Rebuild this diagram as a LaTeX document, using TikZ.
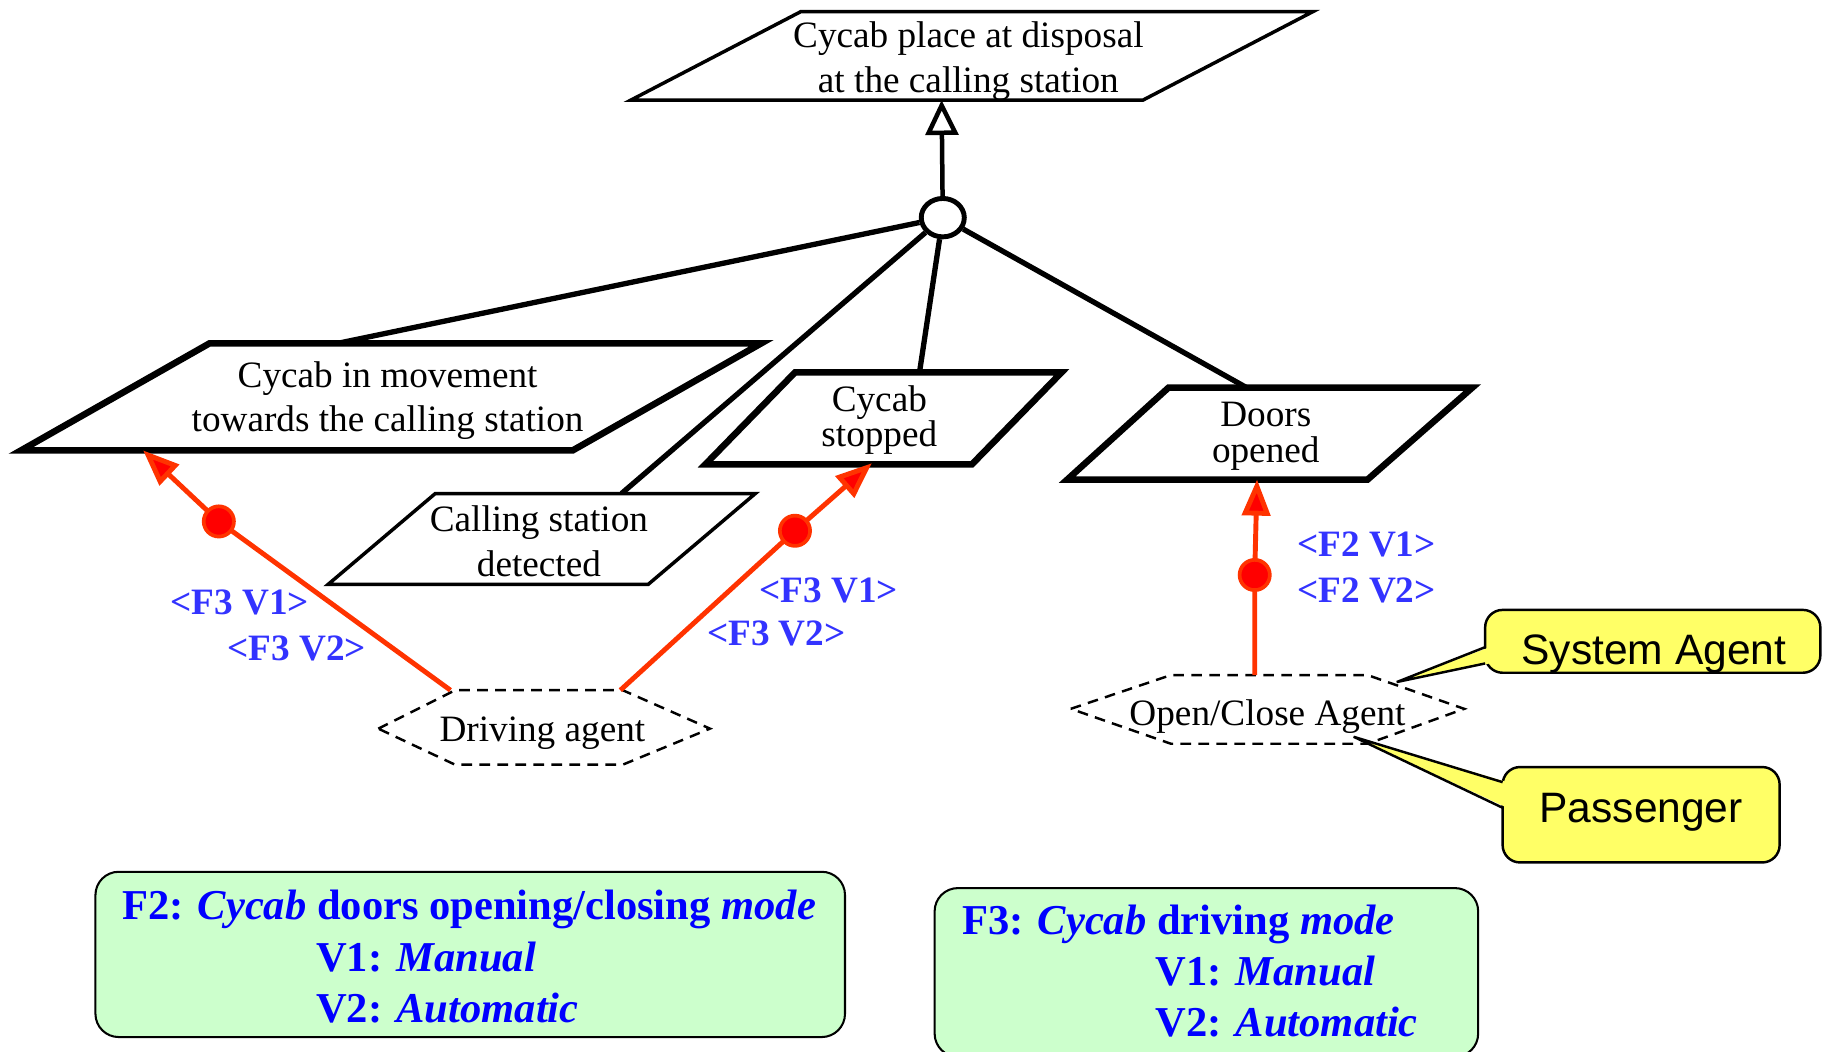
\documentclass[tikz,border=0pt]{standalone}
\usepackage{fontspec}
\setmainfont{Liberation Serif}
\setsansfont{Liberation Sans}
\usetikzlibrary{shapes.geometric}
\usetikzlibrary{arrows.meta}
\definecolor{redline}{RGB}{255,51,0}
\definecolor{labblue}{RGB}{51,51,255}
\definecolor{notegreen}{RGB}{204,255,204}
\definecolor{noteyellow}{RGB}{255,255,102}

\begin{document}
\begin{tikzpicture}[
  goal/.style={draw, fill=white, line width=1.6pt, line join=miter},
  thingoal/.style={draw, fill=white, line width=0.85pt, line join=miter},
  agent/.style={draw, line width=0.6pt, dash pattern=on 2.6pt off 1.8pt},
  link/.style={line width=1.3pt},
  isa/.style={line width=1.1pt, -{Triangle[open, length=0.30cm, width=0.28cm]}},
  resp/.style={redline, line width=1.2pt, -{Triangle[length=0.31cm, width=0.24cm, fill=red]}},
  orc/.style={ellipse, draw, fill=white, line width=1.2pt, minimum width=0.37cm, minimum height=0.33cm, inner sep=0pt},
  dot/.style={circle, draw=redline, fill=red, line width=0.9pt, minimum size=0.26cm, inner sep=0pt},
  txt/.style={font=\fontsize{9.1}{10.8}\selectfont, align=center, inner sep=0pt},
  tighttxt/.style={font=\fontsize{9.1}{8.7}\selectfont, align=center, inner sep=0pt},
  lab/.style={font=\bfseries\fontsize{9.1}{10.8}\selectfont, text=labblue, inner sep=0pt},
  note/.style={font=\bfseries\fontsize{10.4}{12.5}\selectfont, text=blue, inner sep=0pt},
  notebox/.style={draw, fill=notegreen, line width=0.5pt, rounded corners=0.2cm},
  callout/.style={draw, fill=noteyellow, line width=0.6pt, rounded corners=0.15cm},
  calltxt/.style={font=\sffamily\fontsize{10.4}{12.5}\selectfont, inner sep=0pt}
]
\useasboundingbox (0,0) rectangle (15.68,-9.03);

% attach points on the goals and agents
\coordinate (placeb) at (8.09,-0.86);
\coordinate (movt) at (2.90,-2.95);
\coordinate (movb) at (1.23,-3.87);
\coordinate (callt) at (5.34,-4.24);
\coordinate (stopt) at (7.90,-3.20);
\coordinate (stopb) at (7.49,-3.98);
\coordinate (doorst) at (10.71,-3.33);
\coordinate (doorsb) at (10.80,-4.12);
\coordinate (drvl) at (3.87,-5.93);
\coordinate (drvr) at (5.33,-5.93);
\coordinate (ocag) at (10.78,-5.80);
\coordinate (systip) at (12.00,-5.86);
\coordinate (passtip) at (11.63,-6.33);

% decomposition
\node[orc] (or) at (8.10,-1.87) {};
\draw[isa] (or) -- (placeb);
\draw[link] (or) -- (movt);
\draw[link] (or) -- (callt);
\draw[link] (or) -- (stopt);
\draw[link] (or) -- (doorst);

% goals
\draw[thingoal] (5.42,-0.86) -- (6.88,-0.10) -- (11.28,-0.10) -- (9.82,-0.86) -- cycle;
\node[txt] (place) at (8.32,-0.525) {Cycab place at disposal\\at the calling station};

\draw[goal] (0.18,-3.87) -- (1.80,-2.95) -- (6.54,-2.95) -- (4.92,-3.87) -- cycle;
\node[txt] (mov) at (3.33,-3.44) {Cycab in movement\\towards the calling station};

\draw[thingoal] (2.82,-5.02) -- (3.74,-4.24) -- (6.49,-4.24) -- (5.57,-5.02) -- cycle;
\node[txt] (call) at (4.63,-4.65) {Calling station\\detected};

\draw[goal] (6.06,-3.99) -- (6.83,-3.20) -- (9.12,-3.20) -- (8.35,-3.99) -- cycle;
\node[tighttxt] (stop) at (7.555,-3.61) {Cycab\\stopped};

\draw[goal] (9.17,-4.12) -- (10.04,-3.33) -- (12.65,-3.33) -- (11.75,-4.12) -- cycle;
\node[tighttxt] (doors) at (10.875,-3.75) {Doors\\opened};

% agents
\draw[agent] (3.25,-6.26) -- (3.91,-5.93) -- (5.35,-5.93) -- (6.10,-6.26) -- (5.35,-6.57) -- (3.91,-6.57) -- cycle;
\node[txt] (drv) at (4.66,-6.30) {Driving agent};

\draw[agent] (9.20,-6.09) -- (10.06,-5.80) -- (11.75,-5.80) -- (12.58,-6.09) -- (11.75,-6.39) -- (10.06,-6.39) -- cycle;
\node[txt] (oca) at (10.89,-6.155) {Open/Close Agent};

% responsibilities
\coordinate (p1) at (1.88,-4.48);
\coordinate (p2) at (6.83,-4.56);
\coordinate (p3) at (10.78,-4.94);
\draw[resp] (drvl) -- (p1) -- (movb);
\draw[resp] (drvr) -- (p2) -- (stopb);
\draw[resp] (ocag) -- (p3) -- (doorsb);
\node[dot] (d1) at (p1) {};
\node[dot] (d2) at (p2) {};
\node[dot] (d3) at (p3) {};

\node[lab] (l1) at (2.06,-5.18) {<F3 V1>};
\node[lab] (l2) at (2.55,-5.57) {<F3 V2>};
\node[lab] (l3) at (7.12,-5.07) {<F3 V1>};
\node[lab] (l4) at (6.67,-5.44) {<F3 V2>};
\node[lab] (l5) at (11.74,-4.68) {<F2 V1>};
\node[lab] (l6) at (11.74,-5.07) {<F2 V2>};

% callouts
\draw[callout] (12.76,-5.24) rectangle (15.64,-5.78);
\fill[noteyellow] (12.80,-5.56) -- (systip) -- (12.80,-5.70) -- cycle;
\draw[line width=0.6pt] (12.76,-5.56) -- (systip) -- (12.76,-5.70);
\node[calltxt] (sys) at (14.21,-5.62) {System Agent};

\draw[callout] (12.91,-6.59) rectangle (15.29,-7.41);
\fill[noteyellow] (12.95,-6.72) -- (passtip) -- (12.95,-6.94) -- cycle;
\draw[line width=0.6pt] (12.91,-6.72) -- (passtip) -- (12.91,-6.94);
\node[calltxt] (pass) at (14.10,-6.98) {Passenger};

% variability notes
\draw[notebox] (0.82,-7.49) rectangle (7.26,-8.91);
\node[note] (f2) at (4.03,-7.81) {F2: \textit{Cycab} doors opening/closing \textit{mode}};
\node[note, anchor=west] (f2a) at (2.71,-8.22) {V1: \textit{Manual}};
\node[note, anchor=west] (f2b) at (2.71,-8.66) {V2: \textit{Automatic}};

\draw[notebox] (8.03,-7.63) rectangle (12.70,-9.08);
\node[note, anchor=west] (f3) at (8.26,-7.94) {F3: \textit{Cycab} driving \textit{mode}};
\node[note, anchor=west] (f3a) at (9.92,-8.34) {V1: \textit{Manual}};
\node[note, anchor=west] (f3b) at (9.92,-8.78) {V2: \textit{Automatic}};
\end{tikzpicture}
\end{document}
